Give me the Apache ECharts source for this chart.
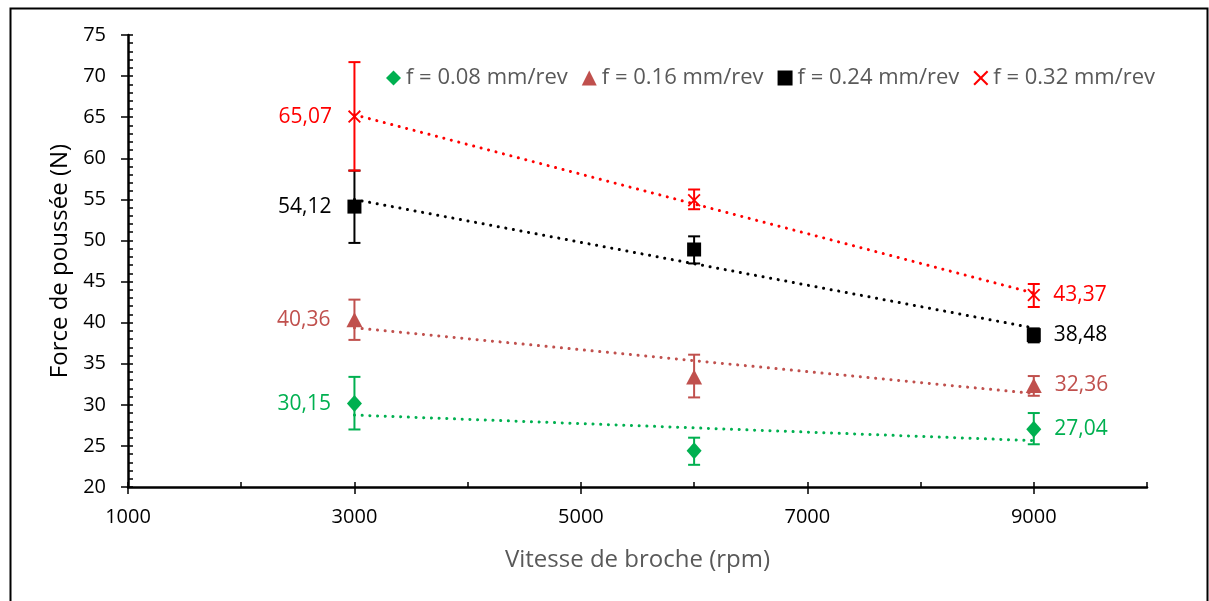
<!DOCTYPE html>
<html><head><meta charset="utf-8">
<script src="https://cdn.jsdelivr.net/npm/echarts@6/dist/echarts.min.js"></script>
<style>html,body{margin:0;padding:0;background:#fff}#c{width:1209px;height:601px}</style>
</head><body><div id="c"></div>
<script>
// ---- data ----
const speeds = [3000, 6000, 9000];
const seriesNames = ['f = 0.08 mm/rev', 'f = 0.16 mm/rev', 'f = 0.24 mm/rev', 'f = 0.32 mm/rev'];
const force008 = [30.15, 24.4, 27.04];
const force016 = [40.36, 33.4, 32.36];
const force024 = [54.12, 48.9, 38.48];
const force032 = [65.07, 54.9, 43.37];
const errLow008 = [27.0, 22.7, 25.2];
const errHigh008 = [33.4, 26.0, 29.0];
const errLow016 = [37.9, 30.9, 31.1];
const errHigh016 = [42.8, 36.1, 33.5];
const errLow024 = [49.7, 47.2, 37.6];
const errHigh024 = [58.5, 50.5, 39.3];
const errLow032 = [58.5, 53.8, 41.9];
const errHigh032 = [71.7, 56.2, 44.7];
const xTickLabels = [1000, 3000, 5000, 7000, 9000];
const xMin = 1000, xMax = 10000, yMin = 20, yMax = 75;

// ---- styles ----
const colors = ['#00B050', '#C0504D', '#000000', '#FF0000'];
const crossPath = 'path://M0,1L1,0L5,4L9,0L10,1L6,5L10,9L9,10L5,6L1,10L0,9L4,5Z';
const symbols = ['diamond', 'triangle', 'rect', crossPath];
const symbolSizes = [[15, 17], [16, 15], [14, 14], [13, 13]];
const FONT = '"Open Sans", "Noto Sans", sans-serif';

const forces = [force008, force016, force024, force032];
const lows = [errLow008, errLow016, errLow024, errLow032];
const highs = [errHigh008, errHigh016, errHigh024, errHigh032];

function fmt(v) { return v.toFixed(2).replace('.', ','); }
function linreg(xs, ys) {
  const n = xs.length;
  const mx = xs.reduce((a, b) => a + b, 0) / n;
  const my = ys.reduce((a, b) => a + b, 0) / n;
  let num = 0, den = 0;
  for (let i = 0; i < n; i++) { num += (xs[i] - mx) * (ys[i] - my); den += (xs[i] - mx) * (xs[i] - mx); }
  const b = num / den;
  return x => my + b * (x - mx);
}

const series = [];
forces.forEach((fs, k) => {
  const f = linreg(speeds, fs);
  const first = speeds[0], last = speeds[speeds.length - 1];
  series.push({
    name: 'trend' + k, type: 'line', xAxisIndex: 0, yAxisIndex: 0,
    data: [[first, f(first)], [last, f(last)]],
    showSymbol: false, silent: true, z: 2,
    lineStyle: { color: colors[k], width: 3, type: [0.1, 7.6], cap: 'round', opacity: 1 }
  });
  series.push({
    name: 'err' + k, type: 'custom', xAxisIndex: 0, yAxisIndex: 0, z: 3, silent: true,
    data: speeds.map((s, i) => [s, lows[k][i], highs[k][i]]),
    renderItem: function (params, api) {
      const p1 = api.coord([api.value(0), api.value(1)]);
      const p2 = api.coord([api.value(0), api.value(2)]);
      const hw = 6;
      const st = { stroke: colors[k], lineWidth: 2, fill: null };
      return { type: 'group', children: [
        { type: 'line', shape: { x1: p1[0], y1: p1[1], x2: p2[0], y2: p2[1] }, style: st },
        { type: 'line', shape: { x1: p1[0] - hw, y1: p1[1], x2: p1[0] + hw, y2: p1[1] }, style: st },
        { type: 'line', shape: { x1: p2[0] - hw, y1: p2[1], x2: p2[0] + hw, y2: p2[1] }, style: st }
      ] };
    }
  });
  series.push({
    name: seriesNames[k], type: 'scatter', xAxisIndex: 0, yAxisIndex: 0, z: 4,
    symbol: symbols[k], symbolSize: symbolSizes[k],
    itemStyle: { color: colors[k], opacity: 1 },
    data: speeds.map((s, i) => {
      const item = { value: [s, fs[i]] };
      if (i === 0) item.label = { show: true, position: 'left', distance: 16 };
      else if (i === speeds.length - 1) item.label = { show: true, position: 'right', distance: 13 };
      return item;
    }),
    label: { show: false, color: colors[k], fontSize: 21, fontFamily: FONT, opacity: 1,
      formatter: p => fmt(p.value[1]) }
  });
});

const chart = echarts.init(document.getElementById('c'));
chart.setOption({
  animation: false,
  backgroundColor: '#fff',
  textStyle: { fontFamily: FONT },
  graphic: [{ type: 'rect', left: 8, top: 6, shape: { width: 1197, height: 700 },
    style: { fill: null, stroke: '#000', lineWidth: 2 }, silent: true, z: 100 }],
  grid: { left: 128, right: 62, top: 35, bottom: 114, containLabel: false },
  legend: {
    data: seriesNames.map((n, k) => ({ name: n, icon: symbols[k], itemStyle: { opacity: 1 } })),
    left: 381, top: 62, itemWidth: 15, itemHeight: 15, itemGap: 14,
    textStyle: { color: '#595959', fontSize: 22, fontFamily: FONT }
  },
  xAxis: [{
    type: 'value', min: xMin, max: xMax, interval: 1000, position: 'bottom',
    name: 'Vitesse de broche (rpm)', nameLocation: 'middle', nameGap: 61,
    nameTextStyle: { color: '#595959', fontSize: 24, fontFamily: FONT },
    axisLine: { show: true, onZero: false, lineStyle: { color: '#000', width: 2.5 } },
    axisTick: { show: true, inside: true, length: 5, lineStyle: { color: '#000', width: 1.5 } },
    axisLabel: { color: '#000', fontSize: 20, fontFamily: FONT, margin: 20,
      formatter: v => xTickLabels.includes(v) ? String(v) : '' },
    splitLine: { show: false }
  }, {
    type: 'value', min: xMin, max: xMax, interval: 1000, position: 'bottom', offset: 0,
    axisLine: { show: false },
    axisTick: { show: true, inside: false, length: 7, customValues: xTickLabels, lineStyle: { color: '#000', width: 1.5 } },
    axisLabel: { show: false },
    splitLine: { show: false }
  }],
  yAxis: [{
    type: 'value', min: yMin, max: yMax, interval: 5, position: 'left',
    name: 'Force de poussée (N)', nameLocation: 'middle', nameGap: 54,
    nameTextStyle: { color: '#000', fontSize: 24, fontFamily: FONT },
    axisLine: { show: true, onZero: false, lineStyle: { color: '#000', width: 2.5 } },
    axisTick: { show: true, inside: true, length: 5, lineStyle: { color: '#000', width: 1.5 } },
    minorTick: { show: true, splitNumber: 5, length: 5, lineStyle: { color: '#000', width: 1.5 } },
    axisLabel: { color: '#000', fontSize: 20, fontFamily: FONT, margin: 22 },
    splitLine: { show: false }
  }, {
    type: 'value', min: yMin, max: yMax, interval: 5, position: 'left', offset: 0,
    axisLine: { show: false },
    axisTick: { show: true, inside: false, length: 7, lineStyle: { color: '#000', width: 1.5 } },
    axisLabel: { show: false },
    splitLine: { show: false }
  }],
  series: series
});
</script>
</body></html>
